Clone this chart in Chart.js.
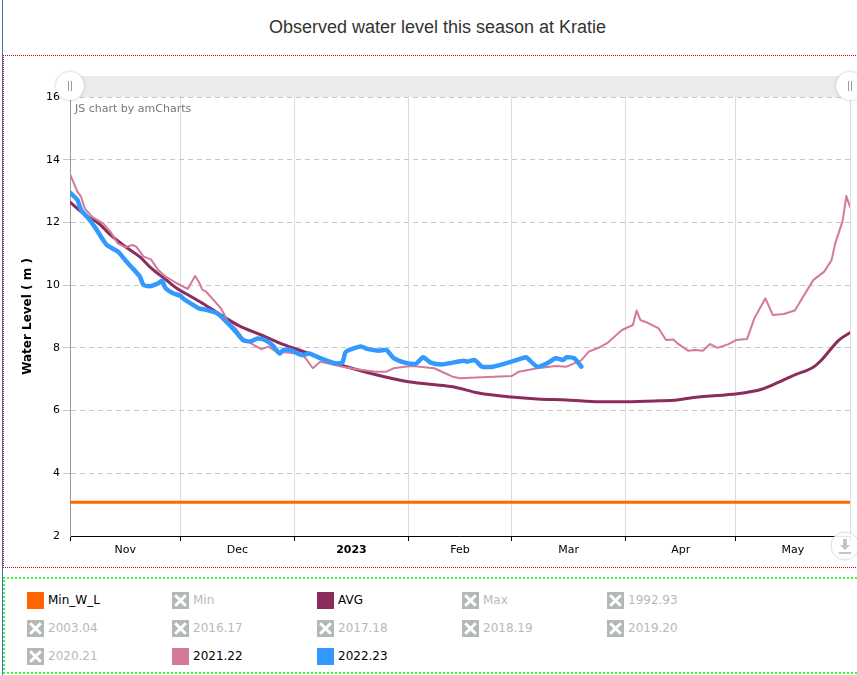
<!DOCTYPE html>
<html>
<head>
<meta charset="utf-8">
<title>Observed water level this season at Kratie</title>
<script src="https://cdn.jsdelivr.net/npm/chart.js@4.4.0/dist/chart.umd.min.js"></script>
<style>
  html, body { margin: 0; padding: 0; background: #fff; }
  body { width: 857px; height: 675px; position: relative; overflow: hidden; font-family: 'DejaVu Sans', Verdana, sans-serif; }
  #edge { position: absolute; left: 2px; top: 0; width: 1px; height: 675px; background: #3d6fb5; }
  #title { position: absolute; left: 0; top: 0; width: 875px; height: 54px; line-height: 54px; text-align: center;
           font-family: 'Liberation Sans', Arial, sans-serif; font-size: 18px; color: #333; }
  #chartBox { position: absolute; left: 3px; top: 55px; width: 870px; height: 511px;
              border-top: 1px dotted #e00000; border-left: 1px dotted #e00000; border-bottom: 1px dotted #e00000; }
  #chart { position: absolute; left: 0; top: 55px; }
  #legendBox { position: absolute; left: 3px; top: 577px; width: 870px; height: 93px; border: 2px dotted #33ff33; }
  .item { position: absolute; height: 17px; line-height: 17px; font-size: 12px; white-space: nowrap; }
  .swatch { position: absolute; left: 0; top: 0; width: 17px; height: 17px; }
  .label { position: absolute; left: 21px; top: 0; }
  .off .swatch { background: #b3b9b9; }
  .off .swatch::before, .off .swatch::after { content: ''; position: absolute; left: 7px; top: 1px; width: 3px; height: 15px; background: #fff; }
  .off .swatch::before { transform: rotate(45deg); }
  .off .swatch::after { transform: rotate(-45deg); }
  .off .label { color: #b9b9b9; }
  .on .label { color: #000; }
</style>
</head>
<body>
<div id="edge"></div>
<div id="title">Observed water level this season at Kratie</div>
<div id="chartBox"></div>
<canvas id="chart" width="857" height="512"></canvas>
<div id="legendBox"></div>
<script>
// x values are days counted from 1 Nov 2022
const monthStarts = [0, 30, 61, 92, 120, 151, 181, 212];
const monthMids = [15, 45.5, 76.5, 106, 135.5, 166, 196.5];
const monthLabels = ['Nov', 'Dec', '2023', 'Feb', 'Mar', 'Apr', 'May'];

const minWLDays = [0, 212];
const minWLLevels = [3.08, 3.08];

const avgDays = [0, 4, 8, 11, 15, 19, 22, 26, 29, 33, 36, 41, 46, 52, 57, 63, 71, 80, 92, 104,
  111, 120, 127, 135, 144, 151, 160, 165, 169, 178, 181, 188, 191, 197, 202, 204, 209, 212];
const avgLevels = [12.65, 12.25, 11.95, 11.6, 11.23, 10.9, 10.55, 10.18, 9.9, 9.63, 9.42, 9.05, 8.7, 8.41, 8.15, 7.9, 7.55, 7.24, 6.92, 6.76,
  6.56, 6.43, 6.37, 6.34, 6.28, 6.28, 6.31, 6.34, 6.41, 6.5, 6.53, 6.68, 6.82, 7.14, 7.38, 7.58, 8.25, 8.48];

const days2122 = [0, 2, 3, 4, 6, 9, 11, 13, 15, 17, 18, 20, 22, 24, 26, 29, 32, 34, 35, 36,
  37, 39, 41, 43, 45, 47, 50, 52, 54, 56, 59, 63, 64, 66, 68, 70, 72, 74, 78, 83,
  86, 88, 91, 93, 99, 102, 104, 106, 112, 120, 122, 127, 132, 135, 139, 141, 144, 146, 150, 153,
  154, 155, 157, 160, 162, 164, 165, 168, 170, 172, 174, 176, 179, 181, 184, 186, 189, 191, 194, 197,
  202, 205, 207, 208, 210, 211, 212];
const levels2122 = [13.54, 12.98, 12.82, 12.45, 12.18, 11.97, 11.7, 11.33, 11.21, 11.28, 11.23, 10.91, 10.82, 10.48, 10.27, 10.06, 9.88, 10.29, 10.11, 9.85,
  9.79, 9.53, 9.26, 8.83, 8.62, 8.3, 8.09, 7.96, 8.04, 7.88, 7.85, 7.8, 7.67, 7.35, 7.56, 7.51, 7.45, 7.4, 7.32, 7.24,
  7.24, 7.35, 7.4, 7.42, 7.35, 7.19, 7.08, 7.03, 7.06, 7.1, 7.24, 7.35, 7.42, 7.4, 7.61, 7.88, 8.02, 8.15, 8.57, 8.73,
  9.19, 8.89, 8.8, 8.62, 8.25, 8.27, 8.15, 7.91, 7.93, 7.91, 8.12, 8.0, 8.12, 8.25, 8.28, 8.94, 9.58, 9.05, 9.08, 9.19,
  10.16, 10.43, 10.8, 11.34, 12.05, 12.84, 12.5];

const days2223 = [0, 2, 3, 5, 7, 9, 10, 13, 15, 17, 19, 20, 22, 24, 25, 26, 28, 30, 31, 34,
  35, 37, 40, 42, 45, 47, 49, 51, 53, 55, 57, 58, 60, 63, 65, 68, 72, 74, 75, 79,
  81, 84, 86, 88, 91, 94, 96, 98, 101, 104, 107, 108, 110, 112, 115, 120, 123, 124, 127, 130,
  132, 134, 135, 137, 139];
const levels2223 = [12.95, 12.72, 12.4, 12.13, 11.81, 11.44, 11.28, 11.07, 10.8, 10.54, 10.27, 10.0, 9.97, 10.06, 10.14, 9.9, 9.74, 9.66, 9.55, 9.33,
  9.26, 9.21, 9.1, 8.89, 8.52, 8.25, 8.2, 8.3, 8.25, 8.09, 7.82, 7.93, 7.93, 7.77, 7.82, 7.67, 7.51, 7.53, 7.88, 8.04,
  7.96, 7.91, 7.93, 7.67, 7.53, 7.49, 7.7, 7.53, 7.47, 7.53, 7.59, 7.56, 7.61, 7.4, 7.4, 7.56, 7.67, 7.7, 7.4, 7.53,
  7.67, 7.61, 7.7, 7.67, 7.4];

const legendNames = ['Min_W_L', 'Min', 'AVG', 'Max', '1992.93', '2003.04', '2016.17', '2017.18',
  '2018.19', '2019.20', '2020.21', '2021.22', '2022.23'];
const seriesColors = { 'Min_W_L': '#ff6600', 'AVG': '#8a2c5c', '2021.22': '#d47a98', '2022.23': '#3399ff' };

const FONT = 'DejaVu Sans';

function toPoints(days, levels) {
  return days.map((d, i) => ({ x: d, y: levels[i] }));
}

// amCharts-like chrome: scrollbar, handles, watermark, export button
const amDecor = {
  id: 'amDecor',
  beforeDraw(chart) {
    const { ctx, chartArea: a } = chart;
    ctx.save();
    ctx.fillStyle = '#ebebeb';
    ctx.fillRect(a.left, a.top - 21, a.right - a.left, 21);
    ctx.restore();
  },
  afterDraw(chart) {
    const { ctx, chartArea: a } = chart;
    ctx.save();
    [a.left, a.right].forEach(cx => {
      const cy = a.top - 11;
      ctx.shadowColor = 'rgba(0,0,0,0.25)';
      ctx.shadowBlur = 3;
      ctx.beginPath();
      ctx.arc(cx, cy, 14, 0, Math.PI * 2);
      ctx.fillStyle = '#fff';
      ctx.fill();
      ctx.shadowBlur = 0;
      ctx.shadowColor = 'transparent';
      ctx.strokeStyle = '#999';
      ctx.lineWidth = 1;
      ctx.beginPath();
      ctx.moveTo(cx - 1.5, cy - 5); ctx.lineTo(cx - 1.5, cy + 5);
      ctx.moveTo(cx + 1.5, cy - 5); ctx.lineTo(cx + 1.5, cy + 5);
      ctx.stroke();
    });

    ctx.font = '11px ' + FONT;
    ctx.fillStyle = '#777';
    ctx.textBaseline = 'middle';
    ctx.fillText('JS chart by amCharts', a.left + 5, a.top + 12);

    // export button
    const bx = a.right - 5, by = a.bottom + 10;
    ctx.beginPath();
    ctx.arc(bx, by, 14, 0, Math.PI * 2);
    ctx.fillStyle = 'rgba(255,255,255,0.9)';
    ctx.fill();
    ctx.strokeStyle = '#ddd';
    ctx.stroke();
    ctx.fillStyle = '#c4c4c4';
    ctx.fillRect(bx - 2, by - 7, 4, 6);
    ctx.beginPath();
    ctx.moveTo(bx - 5, by - 1); ctx.lineTo(bx + 5, by - 1); ctx.lineTo(bx, by + 4);
    ctx.closePath();
    ctx.fill();
    ctx.fillRect(bx - 6, by + 6, 12, 2);
    ctx.restore();
  }
};

const tickValues = monthStarts.concat(monthMids).sort((a, b) => a - b);

new Chart(document.getElementById('chart'), {
  type: 'line',
  data: {
    datasets: [
      {
        label: '2022.23',
        data: toPoints(days2223, levels2223),
        borderColor: seriesColors['2022.23'],
        borderWidth: 4.5,
        tension: 0.2
      },
      {
        label: '2021.22',
        data: toPoints(days2122, levels2122),
        borderColor: seriesColors['2021.22'],
        borderWidth: 2,
        tension: 0
      },
      {
        label: 'AVG',
        data: toPoints(avgDays, avgLevels),
        borderColor: seriesColors['AVG'],
        borderWidth: 3,
        cubicInterpolationMode: 'monotone'
      },
      {
        label: 'Min_W_L',
        data: toPoints(minWLDays, minWLLevels),
        borderColor: seriesColors['Min_W_L'],
        borderWidth: 3
      }
    ]
  },
  options: {
    responsive: false,
    animation: false,
    layout: { padding: { top: 42, right: 7, left: 0, bottom: 0 } },
    elements: {
      point: { radius: 0, hoverRadius: 0 },
      line: { borderCapStyle: 'round', borderJoinStyle: 'round', fill: false }
    },
    plugins: {
      legend: { display: false },
      tooltip: { enabled: false }
    },
    scales: {
      x: {
        type: 'linear',
        min: 0,
        max: 212,
        afterBuildTicks(scale) {
          scale.ticks = tickValues.map(v => ({ value: v }));
        },
        afterFit(scale) {
          scale.height = 31;
        },
        ticks: {
          autoSkip: false,
          maxRotation: 0,
          padding: 3,
          color: '#000',
          callback: v => {
            const i = monthMids.indexOf(v);
            return i >= 0 ? monthLabels[i] : '';
          },
          font: ctx => ({
            family: FONT,
            size: 11,
            weight: ctx.tick && ctx.tick.value === monthMids[2] ? 'bold' : 'normal'
          })
        },
        grid: {
          tickLength: 5,
          color: ctx => (ctx.tick && monthStarts.includes(ctx.tick.value)) ? '#dcdcdc' : 'rgba(0,0,0,0)',
          tickColor: ctx => (ctx.tick && monthStarts.includes(ctx.tick.value)) ? '#000' : 'rgba(0,0,0,0)'
        },
        border: { color: '#000', width: 1 }
      },
      y: {
        min: 2,
        max: 16,
        afterFit(scale) {
          scale.width = 70;
        },
        ticks: {
          stepSize: 2,
          padding: 3,
          color: '#000',
          font: { family: FONT, size: 11 }
        },
        grid: {
          tickLength: 7,
          color: ctx => (ctx.tick && ctx.tick.value === 2) ? 'rgba(0,0,0,0)' : '#c8c8c8'
        },
        border: { color: '#999', dash: [5, 4] },
        title: {
          display: true,
          text: 'Water Level ( m )',
          color: '#000',
          font: { family: FONT, size: 12, weight: 'bold' },
          padding: { top: 21, bottom: 0 }
        }
      }
    }
  },
  plugins: [amDecor]
});

// legend laid out in 5 columns like the amCharts legend
const legendBox = document.body;
legendNames.forEach((name, i) => {
  const col = i % 5, row = Math.floor(i / 5);
  const item = document.createElement('div');
  const color = seriesColors[name];
  item.className = 'item ' + (color ? 'on' : 'off');
  item.style.left = (27 + col * 145) + 'px';
  item.style.top = (592 + row * 28) + 'px';
  const sw = document.createElement('div');
  sw.className = 'swatch';
  if (color) sw.style.background = color;
  const lb = document.createElement('div');
  lb.className = 'label';
  lb.textContent = name;
  item.appendChild(sw);
  item.appendChild(lb);
  legendBox.appendChild(item);
});
</script>
</body>
</html>
